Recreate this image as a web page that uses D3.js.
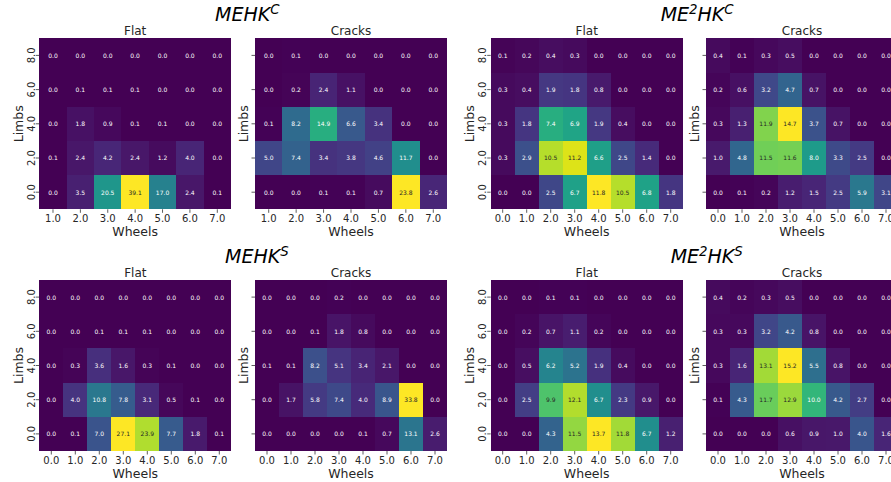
<!DOCTYPE html>
<html><head><meta charset="utf-8">
<script src="https://cdn.jsdelivr.net/npm/d3@7"></script>
<style>body{margin:0;background:#fff}svg{display:block;font-family:"DejaVu Sans",sans-serif}</style>
</head><body><svg id="c" width="891" height="482"></svg>
<script>
// ---------- data ----------
const limbs = ["8.0","6.0","4.0","2.0","0.0"];
const wheels7 = ["1.0","2.0","3.0","4.0","5.0","6.0","7.0"];
const wheels8 = ["0.0","1.0","2.0","3.0","4.0","5.0","6.0","7.0"];

// rows top (Limbs 8.0) to bottom (Limbs 0.0)
const mehkC_flat = [
  [0.0,0.0,0.0,0.0,0.0,0.0,0.0],
  [0.0,0.1,0.1,0.1,0.0,0.0,0.0],
  [0.0,1.8,0.9,0.1,0.1,0.0,0.0],
  [0.1,2.4,4.2,2.4,1.2,4.0,0.0],
  [0.0,3.5,20.5,39.1,17.0,2.4,0.1]
];
const mehkC_cracks = [
  [0.0,0.1,0.0,0.0,0.0,0.0,0.0],
  [0.0,0.2,2.4,1.1,0.0,0.0,0.0],
  [0.1,8.2,14.9,6.6,3.4,0.0,0.0],
  [5.0,7.4,3.4,3.8,4.6,11.7,0.0],
  [0.0,0.0,0.1,0.1,0.7,23.8,2.6]
];
const me2hkC_flat = [
  [0.1,0.2,0.4,0.3,0.0,0.0,0.0,0.0],
  [0.3,0.4,1.9,1.8,0.8,0.0,0.0,0.0],
  [0.3,1.8,7.4,6.9,1.9,0.4,0.0,0.0],
  [0.3,2.9,10.5,11.2,6.6,2.5,1.4,0.0],
  [0.0,0.0,2.5,6.7,11.8,10.5,6.8,1.8]
];
const me2hkC_cracks = [
  [0.4,0.1,0.3,0.5,0.0,0.0,0.0,0.0],
  [0.2,0.6,3.2,4.7,0.7,0.0,0.0,0.0],
  [0.3,1.3,11.9,14.7,3.7,0.7,0.0,0.0],
  [1.0,4.8,11.5,11.6,8.0,3.3,2.5,0.0],
  [0.0,0.1,0.2,1.2,1.5,2.5,5.9,3.1]
];
const mehkS_flat = [
  [0.0,0.0,0.0,0.0,0.0,0.0,0.0,0.0],
  [0.0,0.0,0.1,0.1,0.1,0.0,0.0,0.0],
  [0.0,0.3,3.6,1.6,0.3,0.1,0.0,0.0],
  [0.0,4.0,10.8,7.8,3.1,0.5,0.1,0.0],
  [0.0,0.1,7.0,27.1,23.9,7.7,1.8,0.1]
];
const mehkS_cracks = [
  [0.0,0.0,0.0,0.2,0.0,0.0,0.0,0.0],
  [0.0,0.0,0.1,1.8,0.8,0.0,0.0,0.0],
  [0.1,0.1,8.2,5.1,3.4,2.1,0.0,0.0],
  [0.0,1.7,5.8,7.4,4.0,8.9,33.8,0.0],
  [0.0,0.0,0.0,0.0,0.1,0.7,13.1,2.6]
];
const me2hkS_flat = [
  [0.0,0.0,0.1,0.1,0.0,0.0,0.0,0.0],
  [0.0,0.2,0.7,1.1,0.2,0.0,0.0,0.0],
  [0.0,0.5,6.2,5.2,1.9,0.4,0.0,0.0],
  [0.0,2.5,9.9,12.1,6.7,2.3,0.9,0.0],
  [0.0,0.0,4.3,11.5,13.7,11.8,6.7,1.2]
];
const me2hkS_cracks = [
  [0.4,0.2,0.3,0.5,0.0,0.0,0.0,0.0],
  [0.3,0.3,3.2,4.2,0.8,0.0,0.0,0.0],
  [0.3,1.6,13.1,15.2,5.5,0.8,0.0,0.0],
  [0.1,4.3,11.7,12.9,10.0,4.2,2.7,0.0],
  [0.0,0.0,0.0,0.6,0.9,1.0,4.0,1.6]
];

// ---------- layout ----------
const svg = d3.select("#c");
const topY = 38.3, botY = 280, H = 171;
const panels = [
  {data:mehkC_flat,  cols:wheels7, sub:"Flat",   x:39.3,  y:topY, w:191.7, ylab:true},
  {data:mehkC_cracks,cols:wheels7, sub:"Cracks", x:255,   y:topY, w:192,   ylab:false},
  {data:me2hkC_flat, cols:wheels8, sub:"Flat",   x:490.7, y:topY, w:192,   ylab:true},
  {data:me2hkC_cracks,cols:wheels8,sub:"Cracks", x:706,   y:topY, w:192,   ylab:false},
  {data:mehkS_flat,  cols:wheels8, sub:"Flat",   x:39.3,  y:botY, w:192,   ylab:true},
  {data:mehkS_cracks,cols:wheels8, sub:"Cracks", x:255,   y:botY, w:192,   ylab:false},
  {data:me2hkS_flat, cols:wheels8, sub:"Flat",   x:490.7, y:botY, w:192,   ylab:true},
  {data:me2hkS_cracks,cols:wheels8,sub:"Cracks", x:706,   y:botY, w:192,   ylab:false}
];
const titles = [
  {parts:[["MEHK",0],["C",1]], x:215,   y:21},
  {parts:[["ME",0],["2",1],["HK",0],["C",1]], x:660.7, y:21},
  {parts:[["MEHK",0],["S",1]], x:225,   y:262.5},
  {parts:[["ME",0],["2",1],["HK",0],["S",1]], x:670.7, y:262.5}
];

function textColor(c){
  const r = d3.rgb(c);
  const lin = v => { v/=255; return v <= 0.03928 ? v/12.92 : Math.pow((v+0.055)/1.055, 2.4); };
  const lum = 0.2126*lin(r.r)+0.7152*lin(r.g)+0.0722*lin(r.b);
  return lum > 0.408 ? "#262626" : "#ffffff";
}

panels.forEach(p => {
  const g = svg.append("g").attr("transform", `translate(${p.x},${p.y})`);
  const x = d3.scaleBand().domain(p.cols).range([0, p.w]).padding(0);
  const y = d3.scaleBand().domain(limbs).range([0, H]).padding(0);
  const vmax = d3.max(p.data.flat());
  const color = d3.scaleSequential(d3.interpolateViridis).domain([0, vmax]);
  const cells = [];
  p.data.forEach((row, i) => row.forEach((v, j) => cells.push({r:limbs[i], c:p.cols[j], v, last:j===row.length-1, bot:i===p.data.length-1})));
  g.selectAll("rect.cell").data(cells).join("rect")
    .attr("shape-rendering","crispEdges")
    .attr("x", d => x(d.c)).attr("y", d => y(d.r))
    .attr("width", d => x.bandwidth() + (d.last ? 0 : 0.6))
    .attr("height", d => y.bandwidth() + (d.bot ? 0 : 0.6))
    .attr("fill", d => color(d.v));
  g.selectAll("text.ann").data(cells).join("text")
    .attr("x", d => x(d.c)+x.bandwidth()/2).attr("y", d => y(d.r)+y.bandwidth()/2)
    .attr("text-anchor","middle").attr("dominant-baseline","central")
    .attr("font-size", 6).attr("fill", d => textColor(color(d.v)))
    .text(d => d.v.toFixed(1));

  // x axis
  const xa = g.append("g").attr("transform", `translate(0,${H})`)
    .call(d3.axisBottom(x).tickSize(3.5).tickPadding(2.5));
  xa.select(".domain").remove();
  xa.selectAll("line").attr("stroke","#333").attr("stroke-width",0.8);
  xa.selectAll("text").attr("font-size",10).attr("fill","#262626").attr("font-family","DejaVu Sans");

  // y axis
  const ya = g.append("g").call(d3.axisLeft(y).tickSize(3.5).tickPadding(0));
  ya.select(".domain").remove();
  ya.selectAll("line").attr("stroke","#333").attr("stroke-width",0.8);
  if (p.ylab) {
    ya.selectAll("text")
      .attr("x", null).attr("dy", null)
      .attr("transform", "translate(-8.3,0) rotate(-90)")
      .attr("text-anchor","middle").attr("dominant-baseline","central")
      .attr("font-size",10).attr("fill","#262626").attr("font-family","DejaVu Sans");
  } else {
    ya.selectAll("text").remove();
  }

  // labels
  g.append("text").attr("x", p.w/2).attr("y", H+27).attr("text-anchor","middle")
    .attr("font-size",12.5).attr("fill","#262626").text("Wheels");
  const ylx = p.ylab ? -16.8 : -7.5;
  g.append("text").attr("transform", `translate(${ylx},${H/2}) rotate(-90)`)
    .attr("text-anchor","middle").attr("font-size",12.5).attr("fill","#262626").text("Limbs");
  g.append("text").attr("x", p.w/2).attr("y", -3.5).attr("text-anchor","middle")
    .attr("font-size",12).attr("fill","#262626").text(p.sub);
});

titles.forEach(t => {
  const tx = svg.append("text").attr("x", t.x).attr("y", t.y)
    .attr("font-size", 19).attr("font-style","italic").attr("fill","#000");
  let raised = false;
  t.parts.forEach(([s, sup]) => {
    const ts = tx.append("tspan").text(s);
    if (sup && !raised) { ts.attr("dy", -7).attr("font-size", 13.3); raised = true; }
    else if (!sup && raised) { ts.attr("dy", 7); raised = false; }
    else if (sup) ts.attr("font-size", 13.3);
  });
});
</script></body></html>
